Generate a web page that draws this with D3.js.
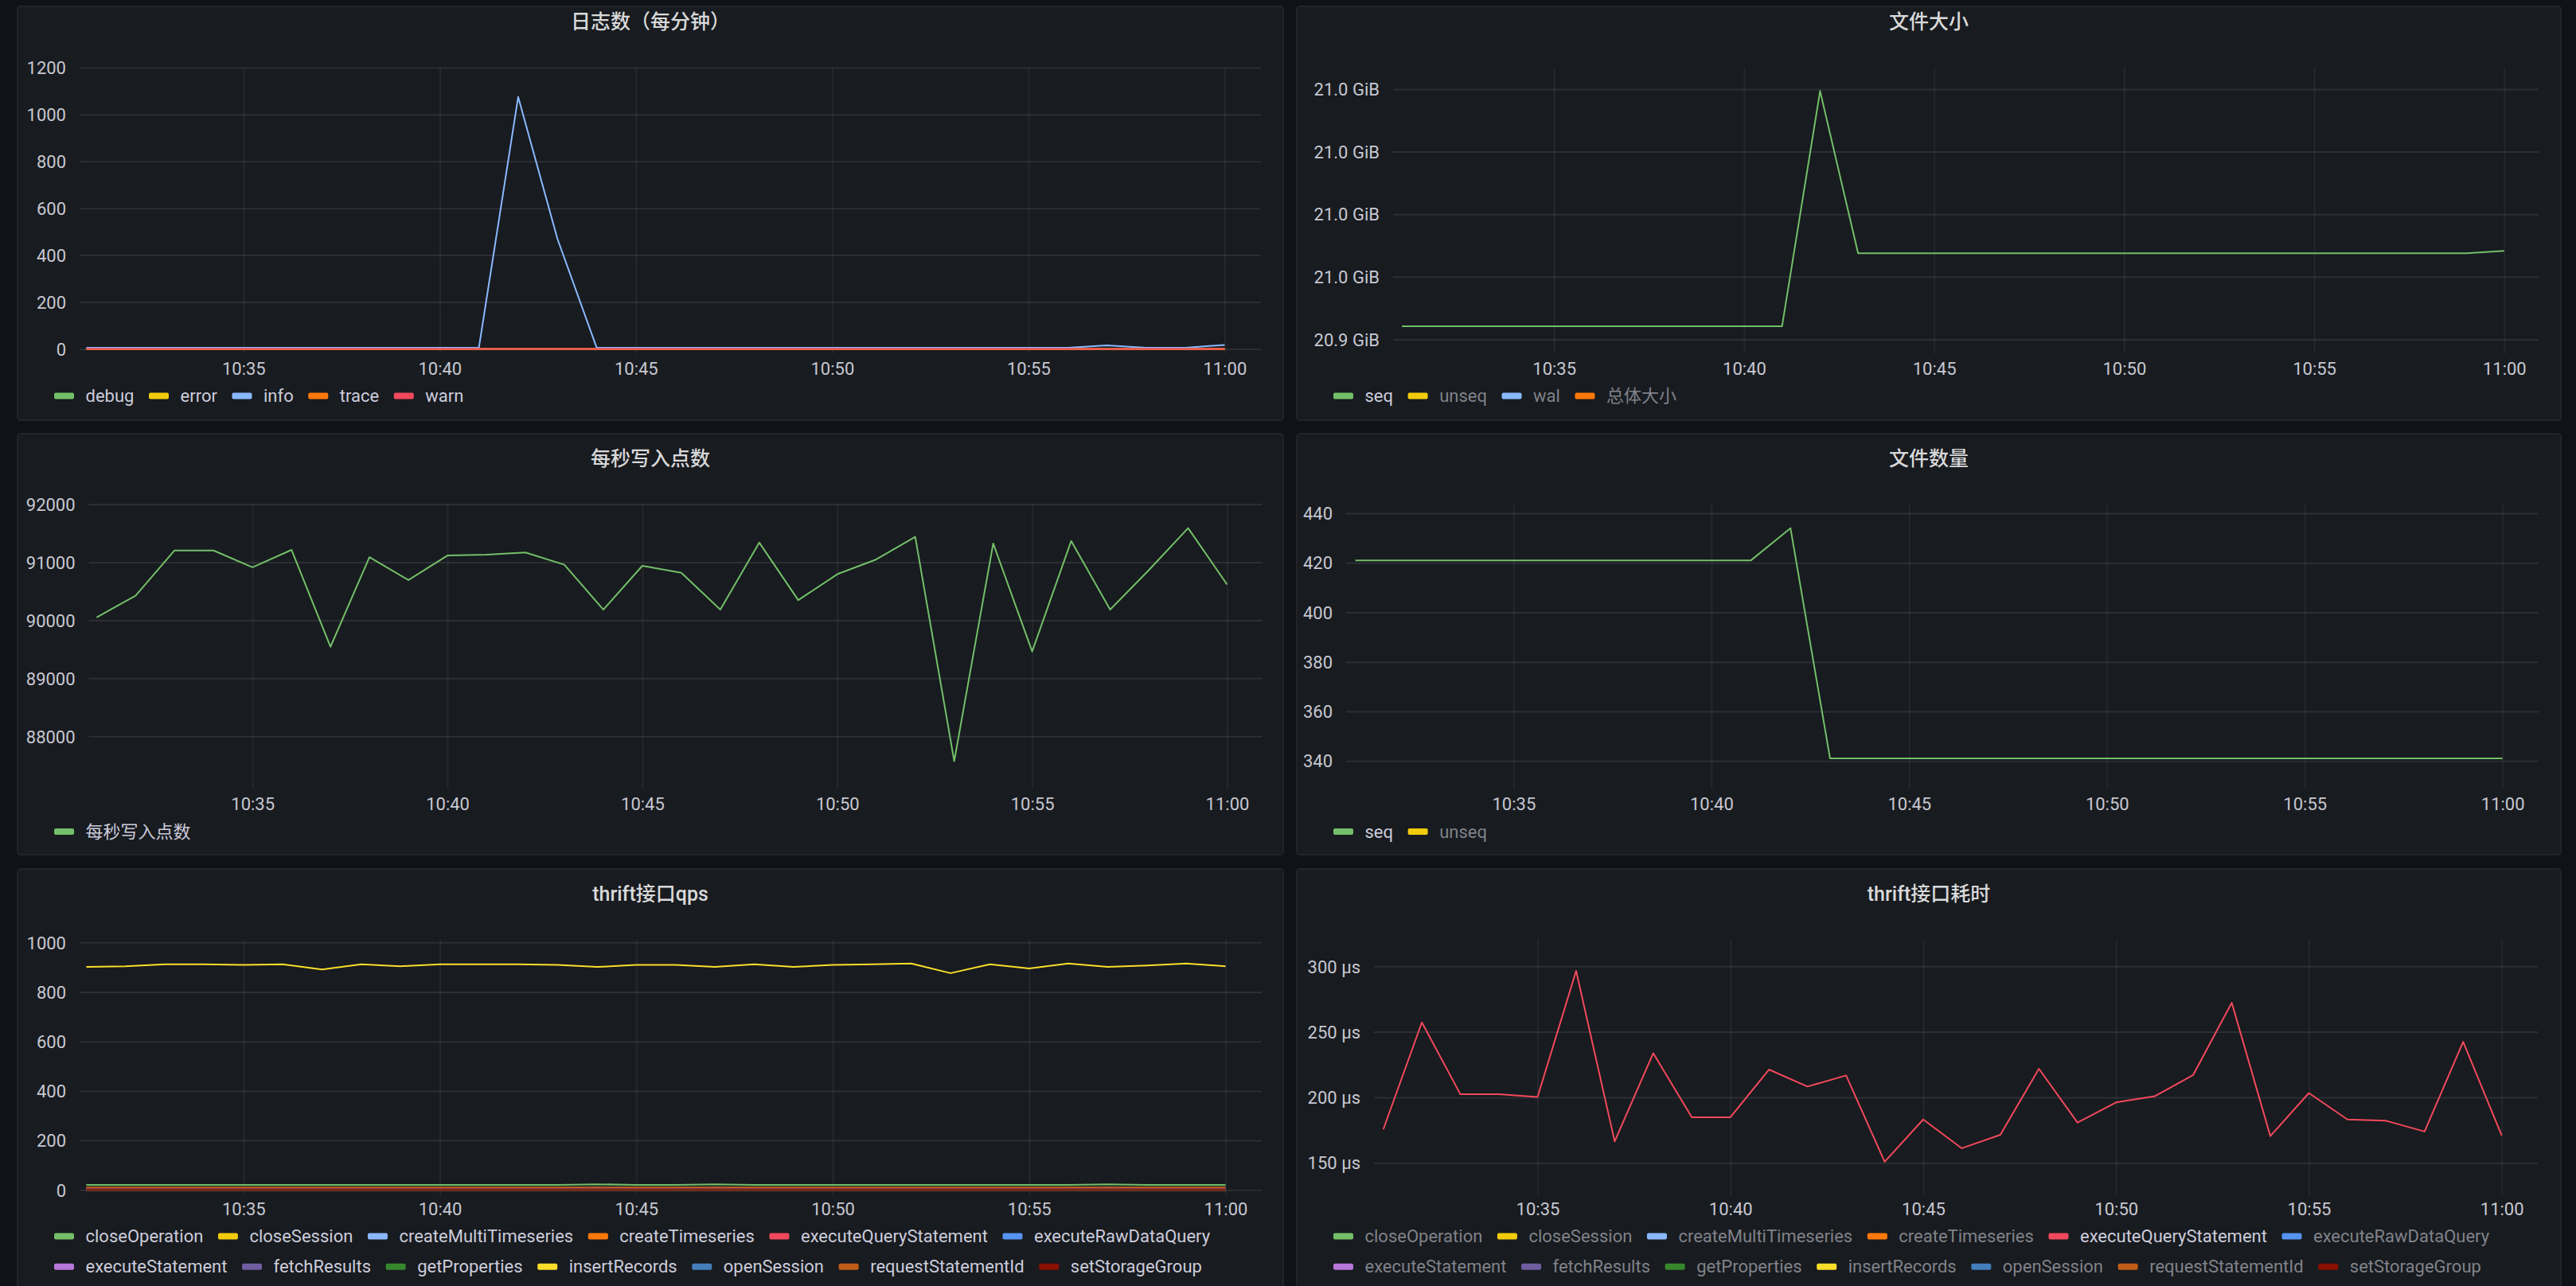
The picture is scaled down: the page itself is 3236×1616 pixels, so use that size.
<!DOCTYPE html>
<html><head><meta charset="utf-8">
<script src="https://cdn.jsdelivr.net/npm/d3@7"></script>
<style>
html,body{margin:0;padding:0;background:#111217;}
svg{display:block;}
</style></head><body>
<svg id="c" width="3236" height="1616"></svg>
<script>
// ---------- DATA ----------
const times = ["10:31","10:32","10:33","10:34","10:35","10:36","10:37","10:38","10:39","10:40",
               "10:41","10:42","10:43","10:44","10:45","10:46","10:47","10:48","10:49","10:50",
               "10:51","10:52","10:53","10:54","10:55","10:56","10:57","10:58","10:59","11:00"];
const xTickLabels = ["10:35","10:40","10:45","10:50","10:55","11:00"];

// 日志数（每分钟）
const logDebug = [0,0,0,0,0,0,0,0,0,0,0,0,0,0,0,0,0,0,0,0,0,0,0,0,0,0,0,0,0,0];
const logError = [0,0,0,0,0,0,0,0,0,0,0,0,0,0,0,0,0,0,0,0,0,0,0,0,0,0,0,0,0,0];
const logInfo  = [5,5,5,5,5,5,5,5,5,5,5,1075,470,5,5,5,5,5,5,5,5,5,5,5,5,5,15,5,5,17];
const logTrace = [0,0,0,0,0,0,0,0,0,0,0,0,0,0,0,0,0,0,0,0,0,0,0,0,0,0,0,0,0,0];
const logWarn  = [0,0,0,0,0,0,0,0,0,0,0,0,0,0,0,0,0,0,0,0,0,0,0,0,0,0,0,0,0,0];
const logTicks = [0,200,400,600,800,1000,1200];

// 文件大小 (GiB)
const sizeSeq = [20.9442,20.9442,20.9442,20.9442,20.9442,20.9442,20.9442,20.9442,20.9442,20.9442,
                 20.9442,21.0194,20.9675,20.9675,20.9675,20.9675,20.9675,20.9675,20.9675,20.9675,
                 20.9675,20.9675,20.9675,20.9675,20.9675,20.9675,20.9675,20.9675,20.9675,20.9683];
const sizeTicks = [20.94,20.96,20.98,21.00,21.02];

// 每秒写入点数
const writePoints = [90050,90423,91202,91202,90913,91212,89543,91087,90692,91115,
                     91130,91168,90957,90183,90938,90817,90183,91337,90346,90793,
                     91048,91437,87572,91322,89462,91365,90183,90870,91587,90615];
const writeTicks = [88000,89000,90000,91000,92000];

// 文件数量
const countSeq = [421,421,421,421,421,421,421,421,421,421,
                  421,434,341,341,341,341,341,341,341,341,
                  341,341,341,341,341,341,341,341,341,341];
const countTicks = [340,360,380,400,420,440];

// thrift接口qps
const qpsCloseOperation = [20,20,20,20,20,20,20,20,20,20,20,20,20,23,20,20,23,20,20,20,20,20,20,20,20,20,23,20,20,20];
const qpsCloseSession   = [0,0,0,0,0,0,0,0,0,0,0,0,0,0,0,0,0,0,0,0,0,0,0,0,0,0,0,0,0,0];
const qpsExecQuery      = [10,10,10,10,10,10,10,10,10,10,10,10,10,10,10,10,10,10,10,10,10,10,10,10,10,10,10,10,10,10];
const qpsFetchResults   = [10,10,10,10,10,10,10,10,10,10,10,10,10,10,10,10,10,10,10,10,10,10,10,10,10,10,10,10,10,10];
const qpsInsertRecords  = [901,904,912,912,909,912,891,912,904,912,912,912,909,901,909,909,901,912,901,909,912,915,876,912,895,915,901,907,915,904];
const qpsOpenSession    = [0,0,0,0,0,0,0,0,0,0,0,0,0,0,0,0,0,0,0,0,0,0,0,0,0,0,0,0,0,0];
const qpsRequestStmtId  = [10,10,10,10,10,10,10,10,10,10,10,10,10,10,10,10,10,10,10,10,10,10,10,10,10,10,10,10,10,10];
const qpsSetStorage     = [0,0,0,0,0,0,0,0,0,0,0,0,0,0,0,0,0,0,0,0,0,0,0,0,0,0,0,0,0,0];
const qpsTicks = [0,200,400,600,800,1000];

// thrift接口耗时 (µs)
const latExecQuery = [175.5,257.2,202.3,202.3,200.2,296.5,166.3,233.7,184.8,184.8,
                      221.2,208.2,216.7,150.8,183.1,161.1,171.4,221.8,180.7,196.1,
                      200.8,217.1,272.2,170.4,203.3,183.1,182.1,173.9,242.4,170.8];
const latTicks = [150,200,250,300];

const thriftNames = ["closeOperation","closeSession","createMultiTimeseries","createTimeseries",
  "executeQueryStatement","executeRawDataQuery","executeStatement","fetchResults","getProperties",
  "insertRecords","openSession","requestStatementId","setStorageGroup"];
const thriftColors = ["#73BF69","#F2CC0C","#8AB8FF","#FF780A","#F2495C","#5794F2","#B877D9",
  "#705DA0","#37872D","#FADE2A","#447EBC","#C15C17","#890F02"];

// ---------- DRAW ----------
const svg = d3.select("#c");
const parse = d3.timeParse("%H:%M");
const T = times.map(parse);
const xTickDates = xTickLabels.map(parse);
const FONT = "Roboto, 'Noto Sans CJK SC', sans-serif";

svg.append("rect").attr("x",0).attr("y",0).attr("width",3236).attr("height",1616).attr("fill","#111217");

function series(names, colors, valuesMap, visible) {
  return names.map((n,i)=>({name:n,color:colors[i],values:valuesMap[n]||null,hidden:!(visible===null||visible.includes(n))}));
}

const panels = [
  {title:"日志数（每分钟）", box:[22,8,1612,528], gx:[100,1584], gy:[85,444], xcal:[305.8,1538.4],
   ycal:[[0,1200],[438.4,85]], ticks:logTicks, fmt:d3.format("d"), xLabelY:463, legendY:497.6,
   series: series(["debug","error","info","trace","warn"],["#73BF69","#F2CC0C","#8AB8FF","#FF780A","#F2495C"],
     {debug:logDebug,error:logError,info:logInfo,trace:logTrace,warn:logWarn}, null)},
  {title:"文件大小", box:[1629,8,3217,528], gx:[1750,3189], gy:[85,444], xcal:[1952.2,3145.8],
   ycal:[[20.94,21.02],[426.4,112]], ticks:sizeTicks, fmt:d=>d.toFixed(1)+" GiB", xLabelY:463, legendY:497.6,
   series: series(["seq","unseq","wal","总体大小"],["#73BF69","#F2CC0C","#8AB8FF","#FF780A"],{seq:sizeSeq},["seq"])},
  {title:"每秒写入点数", box:[22,545,1612,1074], gx:[111.6,1586], gy:[633.5,991], xcal:[317.2,1541.5],
   ycal:[[88000,92000],[925.3,633.5]], ticks:writeTicks, fmt:d3.format("d"), xLabelY:1010, legendY:1045,
   series: series(["每秒写入点数"],["#73BF69"],{"每秒写入点数":writePoints},null)},
  {title:"文件数量", box:[1629,545,3217,1074], gx:[1691,3189], gy:[633.5,991], xcal:[1901.4,3143.7],
   ycal:[[340,440],[956.2,645]], ticks:countTicks, fmt:d3.format("d"), xLabelY:1010, legendY:1045,
   series: series(["seq","unseq"],["#73BF69","#F2CC0C"],{seq:countSeq},["seq"])},
  {title:"thrift接口qps", box:[22,1092,1612,1640], gx:[100,1585], gy:[1181,1502], xcal:[305.8,1539.5],
   ycal:[[0,1000],[1495.3,1184.3]], ticks:qpsTicks, fmt:d3.format("d"), xLabelY:1519.3, legendY:1553.4,
   series: series(thriftNames, thriftColors, {closeOperation:qpsCloseOperation, closeSession:qpsCloseSession,
     executeQueryStatement:qpsExecQuery, fetchResults:qpsFetchResults, insertRecords:qpsInsertRecords,
     openSession:qpsOpenSession, requestStatementId:qpsRequestStmtId, setStorageGroup:qpsSetStorage}, null)},
  {title:"thrift接口耗时", box:[1629,1092,3217,1640], gx:[1726,3188], gy:[1181,1502], xcal:[1931.5,3142.7],
   ycal:[[150,300],[1461.2,1214.3]], ticks:latTicks, fmt:d=>d+" µs", xLabelY:1519.3, legendY:1553.4,
   series: series(thriftNames, thriftColors, {executeQueryStatement:latExecQuery}, ["executeQueryStatement"])}
];

panels.forEach(p=>{
  const g = svg.append("g");
  const [bx0,by0,bx1,by1] = p.box;
  g.append("rect").attr("x",bx0).attr("y",by0).attr("width",bx1-bx0).attr("height",by1-by0)
    .attr("rx",4).attr("fill","#181b1f").attr("stroke","#222429").attr("stroke-width",2);
  g.append("text").attr("x",(bx0+bx1)/2).attr("y",p.titleY||(p.gy[0]-57.5))
    .attr("text-anchor","middle").attr("dominant-baseline","central")
    .attr("font-family",FONT).attr("font-size",25).attr("font-weight",500).attr("fill","#d8d9da").text(p.title);

  const x = d3.scaleTime().domain([parse("10:35"),parse("11:00")]).range(p.xcal);
  const y = d3.scaleLinear().domain(p.ycal[0]).range(p.ycal[1]);

  // y axis + horizontal grid
  const ya = g.append("g").attr("transform",`translate(${p.gx[0]},0)`)
    .call(d3.axisLeft(y).tickValues(p.ticks).tickFormat(p.fmt).tickSize(-(p.gx[1]-p.gx[0])).tickPadding(17));
  ya.select(".domain").remove();
  ya.selectAll("line").attr("stroke","rgba(204,204,220,0.11)").attr("stroke-width",2);
  ya.selectAll("text").attr("font-family",FONT).attr("font-size",22).attr("fill","#c7c8d2").attr("dy","0.35em");

  // x axis + vertical grid
  const xa = g.append("g").attr("transform",`translate(0,${p.gy[1]})`)
    .call(d3.axisBottom(x).tickValues(xTickDates).tickFormat(d3.timeFormat("%H:%M")).tickSize(-(p.gy[1]-p.gy[0])));
  xa.select(".domain").remove();
  xa.selectAll("line").attr("stroke","rgba(204,204,220,0.07)").attr("stroke-width",2);
  xa.selectAll("text").attr("font-family",FONT).attr("font-size",22).attr("fill","#c7c8d2")
    .attr("y",p.xLabelY-p.gy[1]).attr("dy","0.35em");

  // lines
  const line = d3.line().x((d,i)=>x(T[i])).y(d=>y(d)).defined(d=>d!=null);
  p.series.forEach(s=>{
    if (s.hidden || !s.values) return;
    g.append("path").datum(s.values).attr("d",line).attr("fill","none")
      .attr("stroke",s.color).attr("stroke-width",2).attr("stroke-linejoin","round");
  });

  // legend (flow layout)
  let lx = bx0+46, ly = p.legendY;
  const maxX = bx1-28;
  p.series.forEach(s=>{
    const t = g.append("text").attr("font-family",FONT).attr("font-size",22)
      .attr("fill", s.hidden ? "#80828a" : "#ccccdc").attr("dominant-baseline","central").text(s.name);
    const w = t.node().getComputedTextLength();
    if (lx + 39.5 + w > maxX) { lx = bx0+46; ly += 38.3; }
    g.append("rect").attr("x",lx).attr("y",ly-4).attr("width",25).attr("height",8).attr("rx",2).attr("fill",s.color);
    t.attr("x",lx+39.5).attr("y",ly);
    lx += 39.5 + w + 18.6;
  });
});
</script>
</body></html>
